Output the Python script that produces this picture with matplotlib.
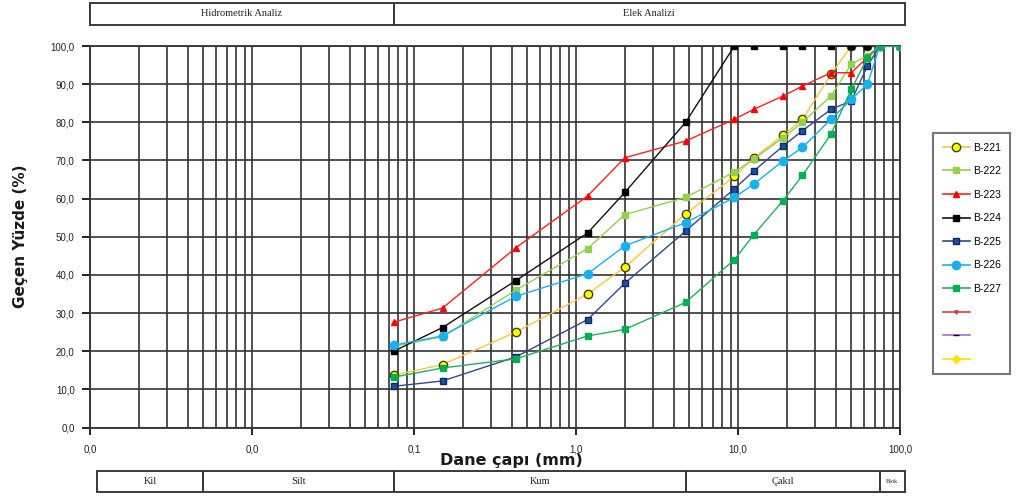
import matplotlib
matplotlib.use("Agg")
import matplotlib.pyplot as plt
from matplotlib.lines import Line2D
from matplotlib.patches import Rectangle
from matplotlib.ticker import FixedLocator, FuncFormatter, LogLocator, NullFormatter
from matplotlib.transforms import blended_transform_factory

# sieve openings (mm)
SIEVE_MM = [0.075, 0.15, 0.425, 1.18, 2.0, 4.75, 9.5, 12.5, 19.0, 25.0, 37.5, 50.0, 63.0, 75.0, 100.0]

B221 = [13.7, 16.5, 25.0, 35.0, 42.0, 56.0, 65.8, 70.7, 76.6, 80.8, 92.6, 100, 100, 100, 100]
B222 = [21.3, 23.8, 36.0, 46.9, 55.8, 60.3, 67.0, 70.3, 76.0, 80.0, 86.9, 95.2, 97.5, 100, 100]
B223 = [27.6, 31.3, 47.1, 60.7, 70.7, 75.1, 80.8, 83.4, 86.9, 89.5, 93.0, 93.0, 97.0, 100, 100]
B224 = [20.0, 26.2, 38.5, 51.0, 61.6, 80.0, 100, 100, 100, 100, 100, 100, 100, 100, 100]
B225 = [10.8, 12.2, 18.5, 28.3, 37.8, 51.5, 62.6, 67.2, 73.8, 77.8, 83.4, 85.6, 94.8, 100, 100]
B226 = [21.6, 24.0, 34.4, 40.3, 47.6, 53.7, 60.3, 63.8, 69.9, 73.4, 80.8, 86.0, 90.0, 100, 100]
B227 = [13.2, 15.6, 18.0, 24.0, 25.7, 32.8, 44.0, 50.5, 59.5, 66.1, 76.9, 88.6, 96.9, 100, 100]

SERIES = [
    ("B-221", B221, "#FFC540", "o", "#FFFF00", "#404000"),
    ("B-222", B222, "#92D050", "s", "#92D050", "#92D050"),
    ("B-223", B223, "#FF2020", "^", "#FF0000", "#FF0000"),
    ("B-224", B224, "#111111", "s", "#000000", "#000000"),
    ("B-225", B225, "#2F4A8A", "s", "#1F4E9C", "#0B2A6B"),
    ("B-226", B226, "#1AAFEF", "o", "#1AAFEF", "#1AAFEF"),
    ("B-227", B227, "#22B060", "s", "#00B050", "#00B050"),
]

# empty legend slots
EXTRA_LEGEND = [
    ("#D04040", "v", "#D04040", 2.5),
    ("#A070D0", "_", "#000000", 4),
    ("#FFE000", "D", "#FFE000", 4),
]

Y_TICKS = [0, 10, 20, 30, 40, 50, 60, 70, 80, 90, 100]
X_DECADES = [0.001, 0.01, 0.1, 1.0, 10.0, 100.0]

# header / bottom classification bands (mm)
HEADER_BANDS = [(0.001, 0.075, "Hidrometrik Analiz"), (0.075, 107.0, "Elek Analizi")]
SOIL_BANDS = [
    (0.0011, 0.005, "Kil"),
    (0.005, 0.075, "Silt"),
    (0.075, 4.75, "Kum"),
    (4.75, 75.0, "Çakıl"),
    (75.0, 107.0, "Blok"),
]

W, H = 1032, 499
fig = plt.figure(figsize=(W / 100, H / 100), dpi=100)
ax = fig.add_axes([90 / W, 1 - 427.5 / H, 810 / W, 381.5 / H])

for name, vals, lc, mk, fc, ec in SERIES:
    ax.plot(SIEVE_MM, vals, color=lc, lw=1.0, marker=mk, markersize=6 if mk == "o" else 5,
            markerfacecolor=fc, markeredgecolor=ec, markeredgewidth=1.0, zorder=3, label=name)

ax.set_xscale("log")
ax.set_xlim(0.001, 100)
ax.set_ylim(0, 100)
ax.set_axisbelow(True)

ax.xaxis.set_major_locator(FixedLocator(X_DECADES))
ax.xaxis.set_minor_locator(LogLocator(base=10, subs=range(2, 10), numticks=20))
ax.xaxis.set_minor_formatter(NullFormatter())
ax.xaxis.set_major_formatter(FuncFormatter(lambda v, p: f"{v:.1f}".replace(".", ",")))
ax.yaxis.set_major_locator(FixedLocator(Y_TICKS))
ax.yaxis.set_major_formatter(FuncFormatter(lambda v, p: f"{v:.1f}".replace(".", ",")))

ax.grid(which="both", axis="x", color="#333333", lw=1.2)
ax.grid(which="major", axis="y", color="#333333", lw=1.2)
ax.tick_params(axis="x", which="major", direction="out", length=5, width=1.2, pad=7,
               labelsize=7, labelcolor="#222222")
ax.tick_params(axis="x", which="minor", length=0)
ax.tick_params(axis="y", direction="out", length=6, width=1.2, pad=5,
               labelsize=7, labelcolor="#222222")
for lab in ax.get_xticklabels() + ax.get_yticklabels():
    lab.set_family("Liberation Sans")
for sp in ax.spines.values():
    sp.set_color("#333333")
    sp.set_linewidth(1.3)

ax.set_ylabel("Geçen Yüzde (%)", fontsize=11, fontweight="bold", color="#1a1a1a")
ax.yaxis.set_label_coords(-62 / 810, 0.5)
ax.set_xlabel("Dane çapı (mm)", fontsize=11.5, fontweight="bold", color="#1a1a1a")
ax.xaxis.set_label_coords(0.52, -26 / 381.5)

# header and soil class boxes
trans = blended_transform_factory(ax.transData, fig.transFigure)


def draw_band_row(bands, y0, y1, fontsize):
    for x0, x1, text in bands:
        rect = Rectangle((x0, y0), x1 - x0, y1 - y0, transform=trans, fill=False,
                         edgecolor="#3a3a3a", lw=1.4, clip_on=False)
        fig.add_artist(rect)
        xm = (x0 * x1) ** 0.5
        fig.text(0, (y0 + y1) / 2, text, transform=trans, ha="center", va="center",
                 fontsize=fontsize, family="Liberation Serif", color="#222222").set_x(xm)


draw_band_row(HEADER_BANDS, 1 - 25 / H, 1 - 3 / H, 7.5)
draw_band_row(SOIL_BANDS, 1 - 492 / H, 1 - 471 / H, 7.5)
fig.texts[-1].set_fontsize(4.5)

handles = [Line2D([], [], color=lc, lw=1.2, marker=mk, markersize=6 if mk == "o" else 5,
                  markerfacecolor=fc, markeredgecolor=ec) for _, _, lc, mk, fc, ec in SERIES]
labels = [s[0] for s in SERIES]
for lc, mk, fc, ms in EXTRA_LEGEND:
    handles.append(Line2D([], [], color=lc, lw=1.2, marker=mk, markersize=ms,
                          markerfacecolor=fc, markeredgecolor=fc))
    labels.append(" ")

leg = fig.legend(handles, labels, loc="upper left", bbox_to_anchor=(928 / W, 1 - 128 / H),
                 frameon=True, fancybox=False, handlelength=2.6,
                 labelspacing=1.3, borderpad=0.9, handletextpad=0.3,
                 prop={"family": "Liberation Sans", "size": 7.5})
leg.get_frame().set_edgecolor("#555555")
leg.get_frame().set_linewidth(1.5)

fig.savefig("out.png", dpi=100)
